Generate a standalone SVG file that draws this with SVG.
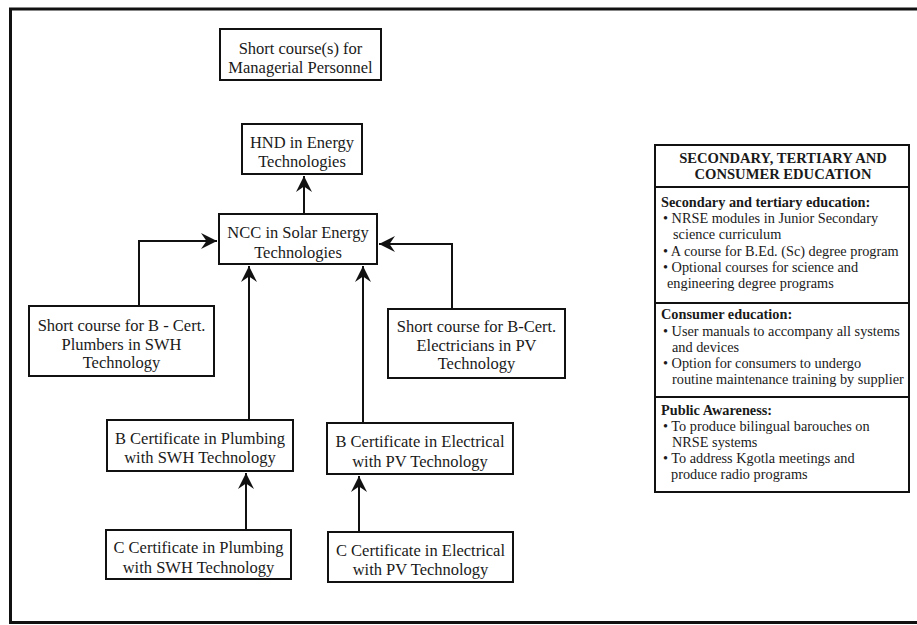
<svg xmlns="http://www.w3.org/2000/svg" width="917" height="625" viewBox="0 0 917 625">
<style>
  .box { fill: #fff; stroke: #111; stroke-width: 2; }
  .t { font-family: "Liberation Serif", "Times New Roman", serif; font-size: 16.5px; fill: #1a1a1a; text-anchor: middle; }
  .p { font-family: "Liberation Serif", "Times New Roman", serif; font-size: 14.3px; fill: #1a1a1a; }
  .h { font-weight: bold; }
  .c { text-anchor: middle; font-size: 14.6px; }
  .conn { fill: none; stroke: #111; stroke-width: 2; }
</style>
<defs>
  <marker id="arr" markerUnits="userSpaceOnUse" viewBox="-17 -9 19 18" markerWidth="19" markerHeight="18" refX="0" refY="0" orient="auto">
    <path d="M0,0 L-16,-8 L-10.5,0 L-16,8 Z" fill="#111"/>
  </marker>
</defs>
<rect x="0" y="0" width="917" height="625" fill="#fff"/>
<rect x="10.5" y="9" width="920" height="613.5" fill="none" stroke="#111" stroke-width="3"/>

<g id="connectors">
  <path class="conn" d="M304,214 V176" marker-end="url(#arr)"/>
  <path class="conn" d="M139,306 V241 H217" marker-end="url(#arr)"/>
  <path class="conn" d="M452,309 V244 H379" marker-end="url(#arr)"/>
  <path class="conn" d="M249,420 V266" marker-end="url(#arr)"/>
  <path class="conn" d="M363,423 V266" marker-end="url(#arr)"/>
  <path class="conn" d="M246,530 V473" marker-end="url(#arr)"/>
  <path class="conn" d="M359,532 V476" marker-end="url(#arr)"/>
</g>

<g id="short_managerial">
  <rect class="box" x="220" y="29" width="161" height="51"/>
  <text class="t" x="300.5" y="54">Short course(s) for</text>
  <text class="t" x="300.5" y="73">Managerial Personnel</text>
</g>

<g id="hnd">
  <rect class="box" x="242" y="124" width="120" height="50"/>
  <text class="t" x="302" y="148">HND in Energy</text>
  <text class="t" x="302" y="167">Technologies</text>
</g>

<g id="ncc">
  <rect class="box" x="219" y="214" width="158" height="50"/>
  <text class="t" x="298" y="238">NCC in Solar Energy</text>
  <text class="t" x="298" y="258">Technologies</text>
</g>

<g id="short_plumbers">
  <rect class="box" x="29" y="306" width="185" height="70"/>
  <text class="t" x="121.5" y="331">Short course for B - Cert.</text>
  <text class="t" x="121.5" y="350">Plumbers in SWH</text>
  <text class="t" x="121.5" y="368">Technology</text>
</g>

<g id="short_electricians">
  <rect class="box" x="388" y="309" width="177" height="69"/>
  <text class="t" x="476.5" y="332">Short course for B-Cert.</text>
  <text class="t" x="476.5" y="351">Electricians in PV</text>
  <text class="t" x="476.5" y="369">Technology</text>
</g>

<g id="b_plumbing">
  <rect class="box" x="107" y="420" width="186" height="51"/>
  <text class="t" x="200" y="444">B Certificate in Plumbing</text>
  <text class="t" x="200" y="463">with SWH Technology</text>
</g>

<g id="b_electrical">
  <rect class="box" x="327" y="423" width="186" height="51"/>
  <text class="t" x="420" y="447">B Certificate in Electrical</text>
  <text class="t" x="420" y="467">with PV Technology</text>
</g>

<g id="c_plumbing">
  <rect class="box" x="106" y="530" width="185" height="49"/>
  <text class="t" x="198.5" y="553">C Certificate in Plumbing</text>
  <text class="t" x="198.5" y="573">with SWH Technology</text>
</g>

<g id="c_electrical">
  <rect class="box" x="328" y="532" width="185" height="50"/>
  <text class="t" x="420.5" y="556">C Certificate in Electrical</text>
  <text class="t" x="420.5" y="575">with PV Technology</text>
</g>

<g id="education_panel">
  <rect class="box" x="655" y="145" width="254" height="347"/>
  <line x1="655" y1="187" x2="909" y2="187" stroke="#111" stroke-width="2"/>
  <line x1="655" y1="303" x2="909" y2="303" stroke="#111" stroke-width="2"/>
  <line x1="655" y1="397" x2="909" y2="397" stroke="#111" stroke-width="2"/>
  <text class="p h c" x="783" y="163">SECONDARY, TERTIARY AND</text>
  <text class="p h c" x="783" y="179">CONSUMER EDUCATION</text>

  <text class="p h" x="661" y="207">Secondary and tertiary education:</text>
  <text class="p" x="663" y="223">• NRSE modules in Junior Secondary</text>
  <text class="p" x="673" y="239">science curriculum</text>
  <text class="p" x="663" y="256">• A course for B.Ed. (Sc) degree program</text>
  <text class="p" x="663" y="272">• Optional courses for science and</text>
  <text class="p" x="667" y="288">engineering degree programs</text>

  <text class="p h" x="661" y="319">Consumer education:</text>
  <text class="p" x="663" y="336">• User manuals to accompany all systems</text>
  <text class="p" x="672" y="352">and devices</text>
  <text class="p" x="663" y="368">• Option for consumers to undergo</text>
  <text class="p" x="672" y="384">routine maintenance training by supplier</text>

  <text class="p h" x="661" y="415">Public Awareness:</text>
  <text class="p" x="663" y="431">• To produce bilingual barouches on</text>
  <text class="p" x="672" y="447">NRSE systems</text>
  <text class="p" x="663" y="463">• To address Kgotla meetings and</text>
  <text class="p" x="671" y="479">produce radio programs</text>
</g>
</svg>
